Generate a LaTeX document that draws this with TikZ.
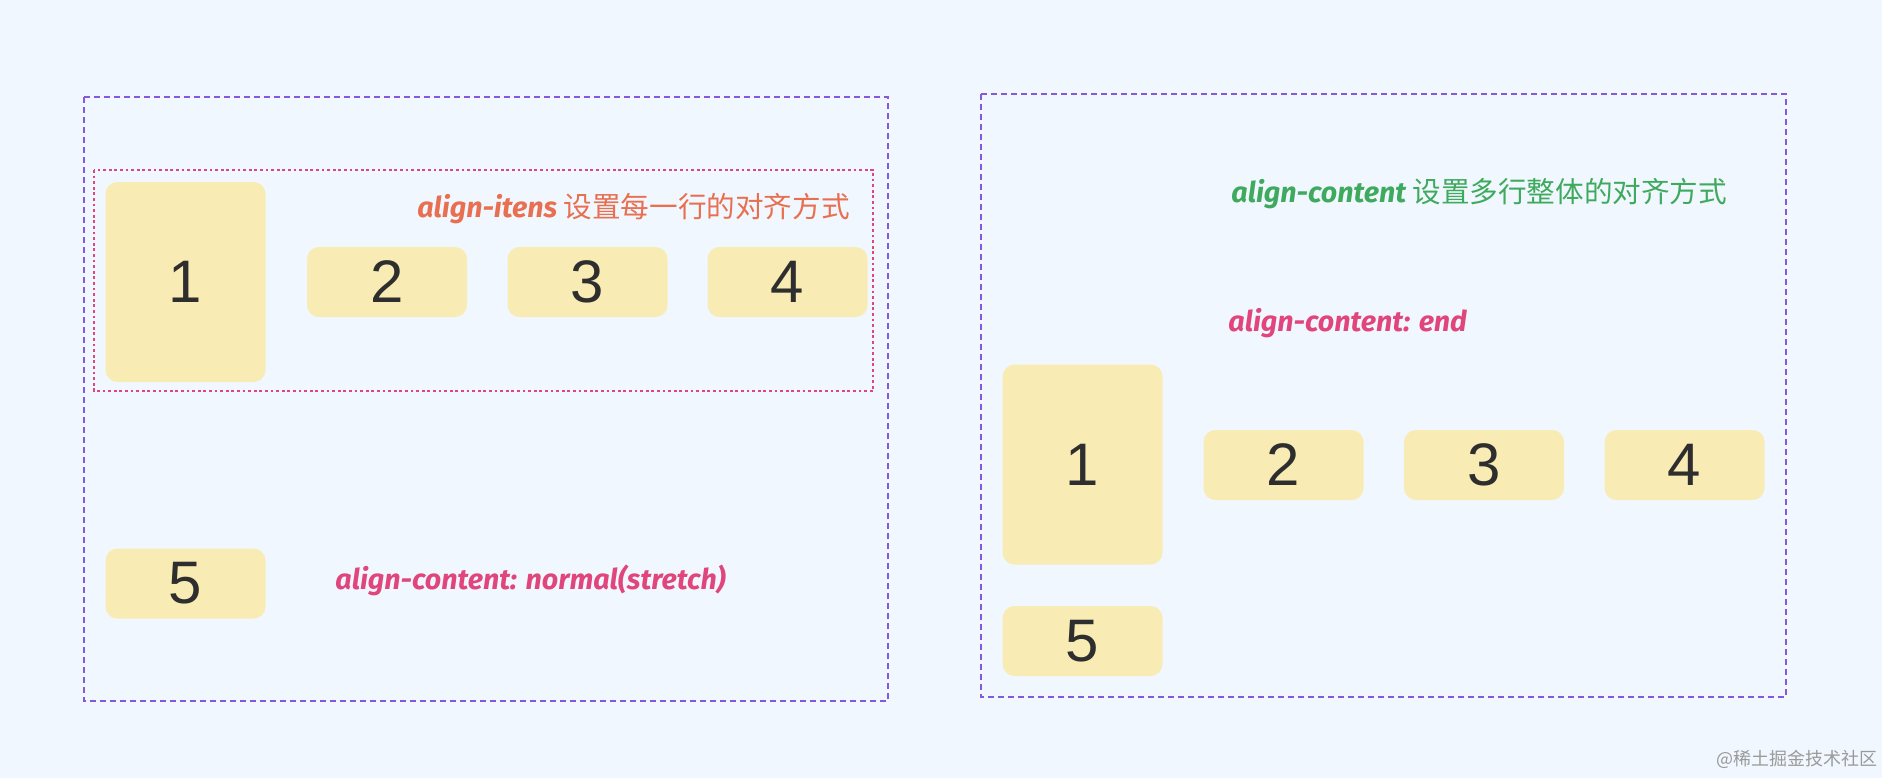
\documentclass[tikz,border=0pt]{standalone}
\usepackage{fontspec}
\setmainfont{Liberation Sans}
\newfontfamily\hand{Fira Sans}
\newfontfamily\cjk{Noto Sans CJK SC}
\definecolor{bgc}{HTML}{F1F7FE}
\definecolor{itemfill}{HTML}{F8EBB4}
\definecolor{digit}{HTML}{2E2E2E}
\definecolor{purp}{HTML}{8459DE}
\definecolor{pinkc}{HTML}{E0457B}
\definecolor{orangec}{HTML}{E86F50}
\definecolor{greenc}{HTML}{3FAA5E}
\definecolor{wm}{HTML}{9A9A9A}
\tikzset{
  item/.style={fill=itemfill, rounded corners=6pt, inner sep=0pt, text=digit,
    font=\fontsize{30}{30}\selectfont, minimum width=80pt},
  shortitem/.style={item, minimum height=35pt},
  tallitem/.style={item, minimum height=100pt},
  outerbox/.style={draw=purp, line width=0.9pt, dash pattern=on 3pt off 2pt},
  linebox/.style={draw=pinkc, line width=0.9pt, dash pattern=on 1.4pt off 1.4pt},
  lbl/.style={inner sep=0pt, font=\fontsize{14.3}{15}\selectfont\hand\bfseries\itshape},
}
\newcommand{\zh}[1]{{\cjk\mdseries\upshape\fontsize{14.3}{15}\selectfont #1}}
\begin{document}
\begin{tikzpicture}[x=0.5pt, y=-0.5pt]
\fill[bgc] (0,0) rectangle (1882,778);
\useasboundingbox (0,0) rectangle (1882,778);
% left container
\draw[outerbox] (84,97) rectangle (888,701);
\draw[linebox] (94,170) rectangle (873,391);
\node[tallitem] (L1) at (185.5,282) {1};
\node[shortitem] (L2) at (387,282) {2};
\node[shortitem] (L3) at (587.5,282) {3};
\node[shortitem] (L4) at (787.5,282) {4};
\node[shortitem] (L5) at (185.5,583.5) {5};
\node[lbl, text=orangec, anchor=east] (t1) at (850,209) {align-itens \zh{设置每一行的对齐方式}};
\node[lbl, text=pinkc, anchor=west] (t2) at (335,580) {align-content: normal(stretch)};
% right container
\draw[outerbox] (981,94) rectangle (1786,697);
\node[tallitem] (R1) at (1082.5,464.5) {1};
\node[shortitem] (R2) at (1283.5,465) {2};
\node[shortitem] (R3) at (1484,465) {3};
\node[shortitem] (R4) at (1684.5,465) {4};
\node[shortitem] (R5) at (1082.5,641) {5};
\node[lbl, text=greenc, anchor=west] (t3) at (1231,194) {align-content \zh{设置多行整体的对齐方式}};
\node[lbl, text=pinkc, anchor=west] (t4) at (1228,323) {align-content: end};
% watermark
\node[inner sep=0pt, anchor=east, text=wm, font=\cjk\fontsize{9}{9}\selectfont] (wmk) at (1878,759) {@稀土掘金技术社区};
\end{tikzpicture}
\end{document}
